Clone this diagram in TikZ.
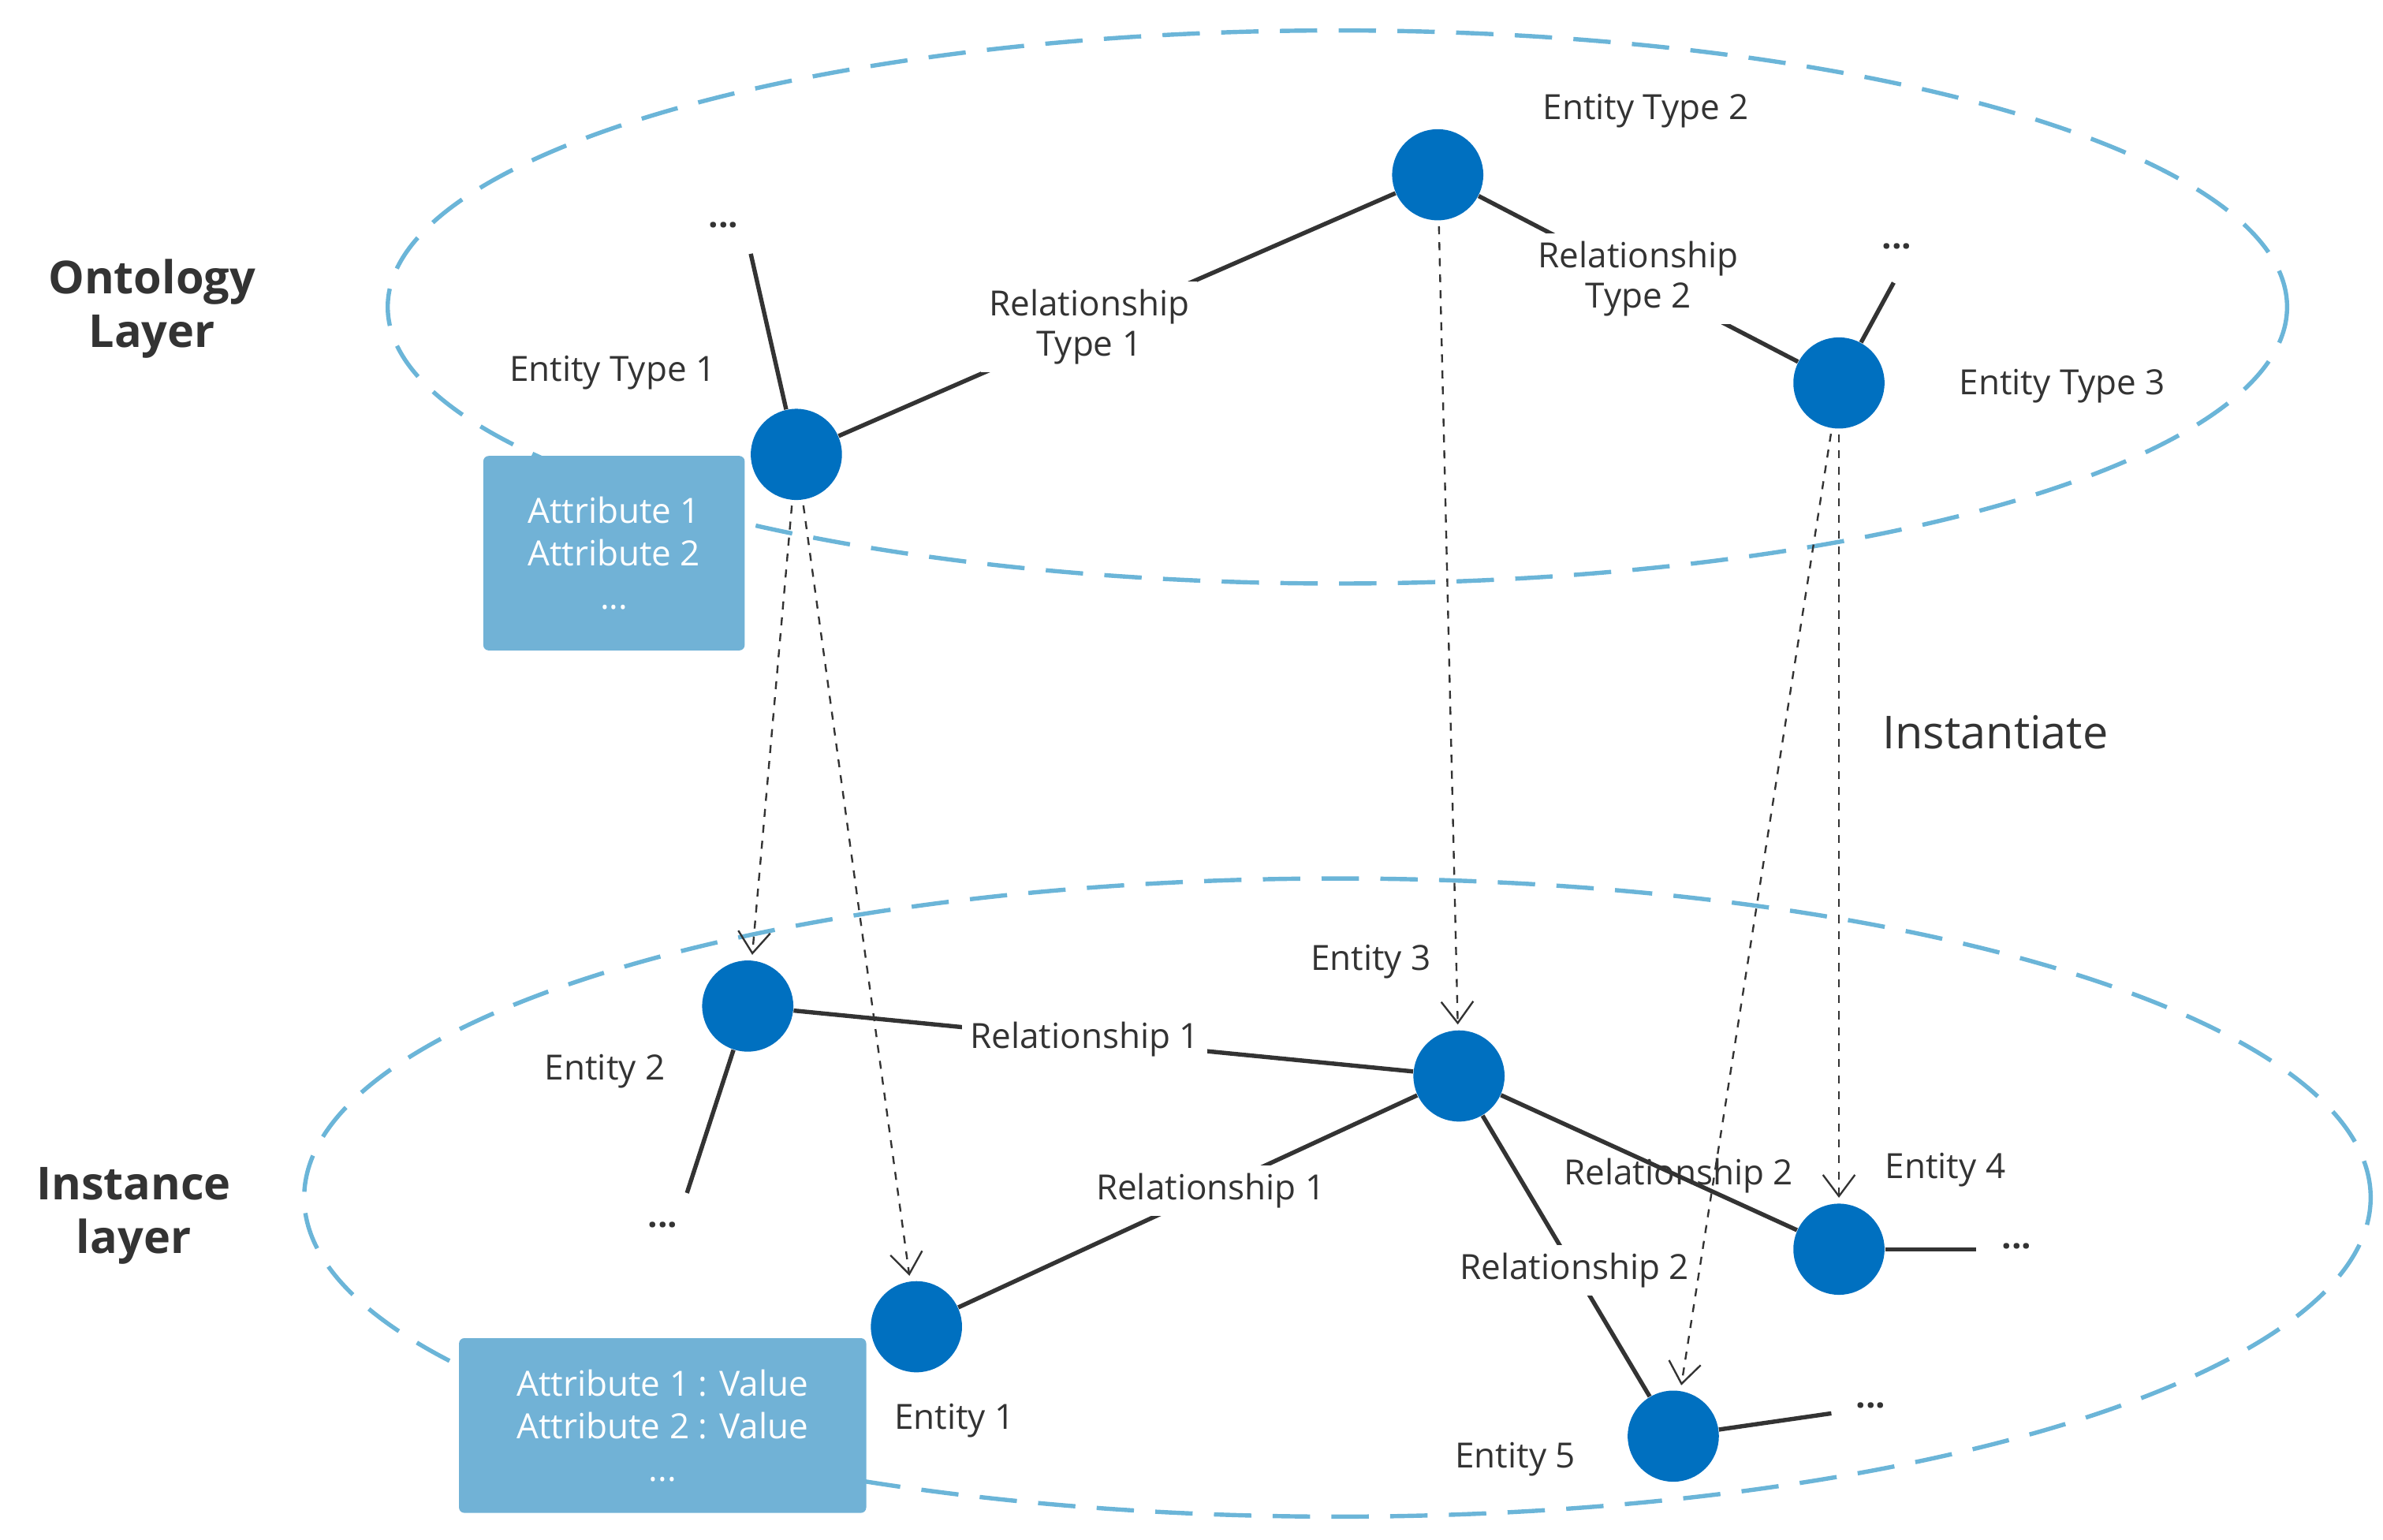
\documentclass[tikz,border=0pt]{standalone}
\usepackage{fontspec}
\setmainfont{Open Sans}
\usetikzlibrary{arrows.meta}
\definecolor{kgBlue}{HTML}{0070C0}
\definecolor{kgLight}{HTML}{71B2D6}
\definecolor{kgDash}{HTML}{6BB5D8}
\definecolor{kgLine}{HTML}{333333}
\begin{document}
\begin{tikzpicture}[x=0.02cm, y=-0.02cm,
    entity/.style={circle, fill=kgBlue, minimum size=1.2cm, inner sep=0pt},
    attr/.style={rectangle, fill=kgLight, text=white, rounded corners=2pt, align=center, font=\fontsize{13}{16}\selectfont},
    layer/.style={draw=kgDash, line width=1.6pt, dash pattern=on 14pt off 8pt},
    link/.style={kgLine, line width=1.6pt},
    inst/.style={-{Straight Barb[length=8pt,width=12pt]}, dashed, kgLine, line width=0.7pt, shorten >=2pt, shorten <=2pt},
    lbl/.style={font=\fontsize{13}{15}\selectfont, text=kgLine, align=center},
    rel/.style={lbl, fill=white, inner sep=3pt},
    dots/.style={font=\bfseries\fontsize{13}{15}\selectfont, text=kgLine}
]
\useasboundingbox (0,0) rectangle (1568,1013);

% Layers
\draw[layer] (880,202) ellipse [x radius=12.5cm, y radius=3.64cm];
\draw[layer] (880,788) ellipse [x radius=13.6cm, y radius=4.2cm];
\node[font=\bfseries\fontsize{17}{20}\selectfont, text=kgLine, align=center] (ontology) at (100,203) {Ontology\\Layer};
\node[font=\bfseries\fontsize{17}{20}\selectfont, text=kgLine, align=center] (instance) at (88,800) {Instance\\layer};

% Ontology layer
\node[attr, minimum width=3.44cm, minimum height=2.56cm] (attrtype) at (404,364) {Attribute 1\\Attribute 2\\...};
\node[entity] (et1) at (524,299) {};
\node[entity] (et2) at (946,115) {};
\node[entity] (et3) at (1210,252) {};
\node[lbl] (et1lbl) at (403,245) {Entity Type 1};
\node[lbl] (et2lbl) at (1083,73) {Entity Type 2};
\node[lbl] (et3lbl) at (1357,254) {Entity Type 3};
\node[dots] (dotsa) at (476,148) {...};
\node[dots] (dotsb) at (1248,162) {...};
\coordinate (enda) at (494,167);
\coordinate (endb) at (1246,186);

% Instance layer
\node[attr, minimum width=5.36cm, minimum height=2.3cm] (attrinst) at (436,938) {Attribute 1 : Value\\Attribute 2 : Value\\...};
\node[entity] (e1) at (603,873) {};
\node[entity] (e2) at (492,662) {};
\node[entity] (e3) at (960,708) {};
\node[entity] (e4) at (1210,822) {};
\node[entity] (e5) at (1101,945) {};
\node[lbl] (e1lbl) at (628,935) {Entity 1};
\node[lbl] (e2lbl) at (398,705) {Entity 2};
\node[lbl] (e3lbl) at (902,633) {Entity 3};
\node[lbl] (e4lbl) at (1280,770) {Entity 4};
\node[lbl] (e5lbl) at (997,960) {Entity 5};
\node[dots] (dotsc) at (436,806) {...};
\node[dots] (dotsd) at (1327,820) {...};
\node[dots] (dotse) at (1231,925) {...};
\coordinate (endc) at (452,785);
\coordinate (endd) at (1300,822);
\coordinate (ende) at (1205,930);

% Connections
\draw[link] (et1) -- node[rel, pos=0.45] {Relationship\\Type 1} (et2);
\draw[link] (et2) -- node[rel, pos=0.5] {Relationship\\Type 2} (et3);
\draw[link] (et1) -- (enda);
\draw[link] (et3) -- (endb);
\draw[link] (e2) -- node[rel, pos=0.47] {Relationship 1} (e3);
\draw[link] (e1) -- node[rel, pos=0.55] {Relationship 1} (e3);
\draw[link] (e3) -- node[rel, pos=0.6, fill=none] {Relationship 2} (e4);
\draw[link] (e3) -- node[rel, pos=0.55] {Relationship 2} (e5);
\draw[link] (e2) -- (endc);
\draw[link] (e4) -- (endd);
\draw[link] (e5) -- (ende);

% Instantiation
\draw[inst] (et1) -- (e2);
\draw[inst] (et1) -- (e1);
\draw[inst] (et2) -- (e3);
\draw[inst] (et3) -- (e4);
\draw[inst] (et3) -- (e5);
\node[font=\fontsize{17}{20}\selectfont, text=kgLine] (instantiate) at (1313,482) {Instantiate};

\end{tikzpicture}
\end{document}
